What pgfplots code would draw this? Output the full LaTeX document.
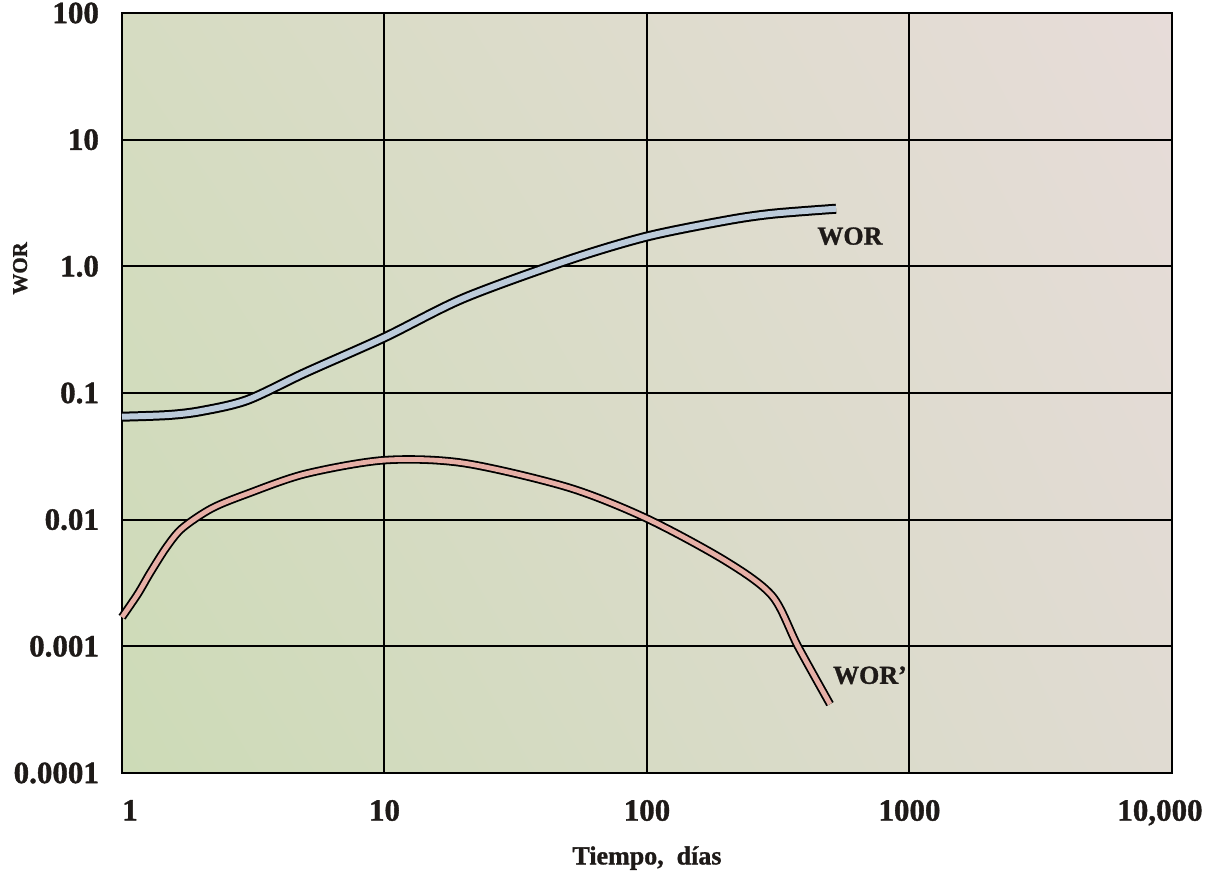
\documentclass[border=0pt]{standalone}
\usepackage{pgfplots}
\pgfplotsset{compat=1.18}
\usepackage{fontspec}
\setmainfont{Liberation Serif}
\newfontfamily\heavy{Liberation Serif Bold}[FakeBold=1.2]
\usetikzlibrary{shadings}
\definecolor{worblue}{HTML}{BCCBDA}
\definecolor{worpink}{HTML}{E6AFA6}
\definecolor{bgLL}{HTML}{CDDBB7}
\definecolor{bgUL}{HTML}{D6DCC2}
\definecolor{bgLR}{HTML}{E0DBD2}
\definecolor{bgUR}{HTML}{E7DCD9}
\definecolor{txt}{HTML}{1E1A18}
\begin{document}
\begin{tikzpicture}
\path[use as bounding box] (-61pt,-52.5pt) rectangle (547pt,386.5pt);
\begin{loglogaxis}[
  scale only axis,
  width=525pt, height=380pt,
  xmin=1, xmax=10000, ymin=0.0001, ymax=100,
  xtick={1,10,100,1000,10000},
  xticklabels={{\hspace*{8pt}1},10,100,1000,{\hspace*{-12pt}10,000}},
  ytick={0.0001,0.001,0.01,0.1,1,10,100},
  yticklabels={0.0001,0.001,0.01,0.1,1.0,10,100},
  major tick length=0pt, minor tick length=0pt,
  tick style={draw=none},
  minor tick style={draw=none},
  grid=major,
  major grid style={black, line width=1pt},
  axis line style={black, line width=1pt},
  tick label style={font=\fontsize{15.5}{16}\heavy, text=txt},
  xticklabel style={yshift=-10pt},
  yticklabel style={xshift=-8pt},
  axis background/.style={shading=bilinear interpolation,
     lower left=bgLL, upper left=bgUL, lower right=bgLR, upper right=bgUR},
  clip=false,
]
% WOR
\addplot[black, line width=5pt, line cap=butt, smooth] coordinates {
 (1,0.065) (1.5,0.067) (2,0.072) (3,0.088) (5,0.145) (10,0.275) (20,0.56) (50,1.12) (100,1.72) (200,2.3) (300,2.6) (525,2.85)};
\addplot[worblue, line width=3pt, line cap=butt, smooth] coordinates {
 (1,0.065) (1.5,0.067) (2,0.072) (3,0.088) (5,0.145) (10,0.275) (20,0.56) (50,1.12) (100,1.72) (200,2.3) (300,2.6) (525,2.85)};
% WOR'
\addplot[black, line width=4.2pt, line cap=butt, smooth] coordinates {
 (1,0.0017) (1.15,0.0026) (1.28,0.0038) (1.48,0.0061) (1.7,0.0086) (2.2,0.0123) (3,0.016) (5,0.023) (10,0.0295) (20,0.028) (50,0.018) (100,0.0102) (200,0.0047) (300,0.0025) (376,0.001) (498,0.00035)};
\addplot[worpink, line width=2.4pt, line cap=butt, smooth] coordinates {
 (1,0.0017) (1.15,0.0026) (1.28,0.0038) (1.48,0.0061) (1.7,0.0086) (2.2,0.0123) (3,0.016) (5,0.023) (10,0.0295) (20,0.028) (50,0.018) (100,0.0102) (200,0.0047) (300,0.0025) (376,0.001) (498,0.00035)};
\node[font=\fontsize{13}{14}\heavy, text=txt] at (axis cs:593,1.73) {WOR};
\node[font=\fontsize{13}{14}\heavy, text=txt] at (axis cs:707,0.00059) {WOR’};
\node[rotate=90, font=\fontsize{10.5}{12}\heavy, text=txt] at (axis description cs:-0.097,0.664) {WOR};
\node[font=\fontsize{13}{14}\heavy, text=txt] at (axis description cs:0.5,-0.112) {Tiempo,\ \ días};
\end{loglogaxis}
\end{tikzpicture}
\end{document}
